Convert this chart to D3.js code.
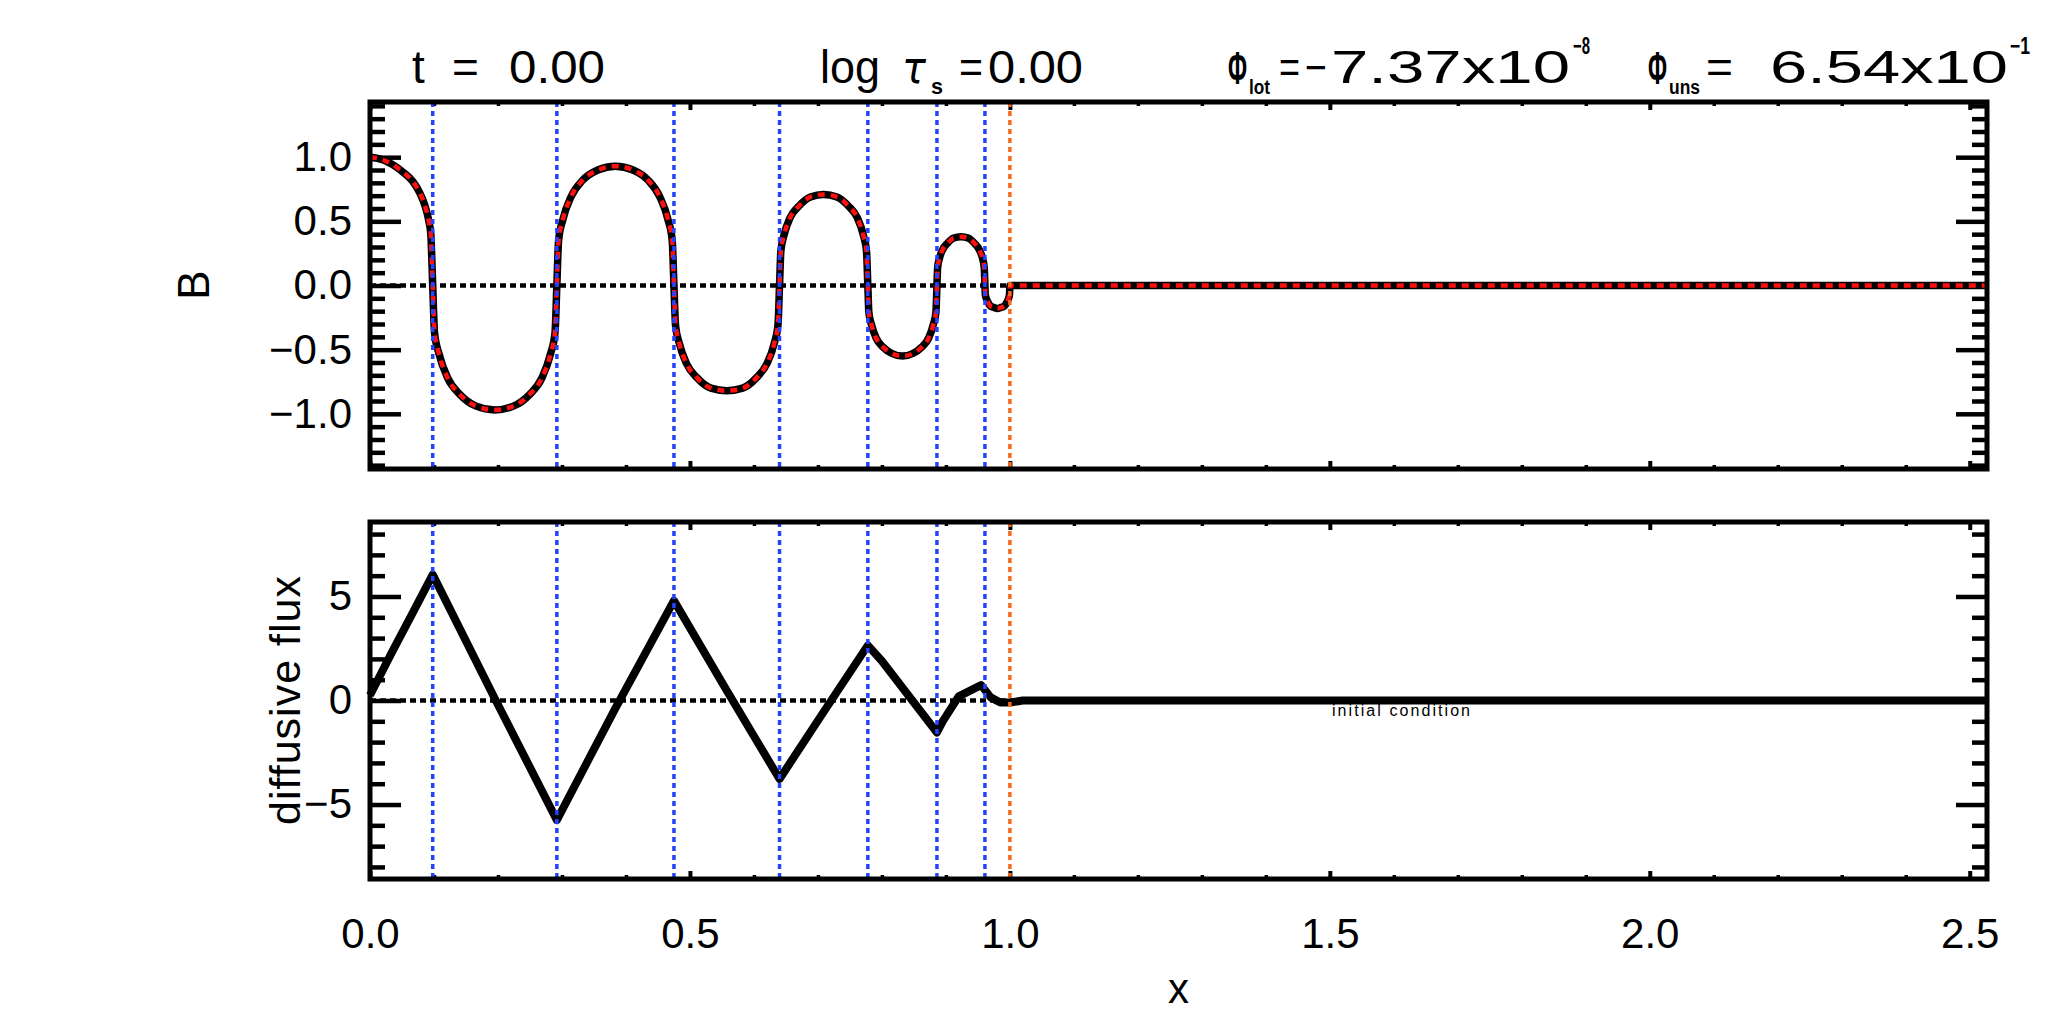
<!DOCTYPE html>
<html><head><meta charset="utf-8">
<script src="https://cdn.jsdelivr.net/npm/d3@7"></script>
<style>
body{margin:0;background:#fff}
text{font-family:"Liberation Sans",Arial,sans-serif;fill:#000}
</style>
</head><body>
<svg id="c" width="2048" height="1024"></svg>
<script>
// ---------------- data ----------------
const xMax = 2.527;
// zero crossings of B (blue dashed) and boundary (orange dashed)
const zeroLines = [0.098, 0.292, 0.475, 0.640, 0.778, 0.886, 0.961];
const boundaryLine = [1.0];

// B(x)
const bX = [
  0, 0.020, 0.036, 0.050, 0.067, 0.078, 0.086, 0.092, 0.095,
  0.098, 0.1009, 0.1077, 0.1213, 0.1407, 0.1659, 0.195, 0.2241, 0.2493, 0.2687, 0.2823, 0.2891,
  0.292, 0.2947, 0.3012, 0.314, 0.3323, 0.3561, 0.3835, 0.411, 0.4347, 0.453, 0.4659, 0.4723,
  0.475, 0.4775, 0.4833, 0.4948, 0.5113, 0.5328, 0.5575, 0.5823, 0.6037, 0.6202, 0.6318, 0.6375,
  0.640, 0.6421, 0.6469, 0.6566, 0.6704, 0.6883, 0.709, 0.7297, 0.7476, 0.7614, 0.7711, 0.7759,
  0.778, 0.7796, 0.7834, 0.791, 0.8018, 0.8158, 0.832, 0.8482, 0.8622, 0.873, 0.8806, 0.8844,
  0.886, 0.8871, 0.8898, 0.895, 0.9025, 0.9123, 0.9235, 0.9347, 0.9445, 0.952, 0.9573, 0.9599,
  0.961, 0.9616, 0.963, 0.9657, 0.9696, 0.9747, 0.9805, 0.9863, 0.9914, 0.9953, 0.998, 0.9994,
  1.0, 2.527
];
const bVal = [
  1.00, 0.98, 0.94, 0.89, 0.81, 0.72, 0.62, 0.50, 0.40,
  0, -0.37, -0.53, -0.72, -0.85, -0.94, -0.97, -0.94, -0.85, -0.72, -0.53, -0.37,
  0, 0.35, 0.51, 0.69, 0.82, 0.90, 0.93, 0.90, 0.82, 0.69, 0.51, 0.35,
  0, -0.31, -0.45, -0.61, -0.72, -0.80, -0.82, -0.80, -0.72, -0.61, -0.45, -0.31,
  0, 0.27, 0.39, 0.53, 0.62, 0.69, 0.71, 0.69, 0.62, 0.53, 0.39, 0.27,
  0, -0.21, -0.30, -0.41, -0.48, -0.53, -0.55, -0.53, -0.48, -0.41, -0.30, -0.21,
  0, 0.14, 0.21, 0.28, 0.33, 0.37, 0.38, 0.37, 0.33, 0.28, 0.21, 0.14,
  0, -0.07, -0.10, -0.13, -0.16, -0.17, -0.18, -0.17, -0.16, -0.13, -0.10, -0.07,
  0, 0
];

// diffusive flux
const fX   = [0, 0.034, 0.070, 0.098, 0.195, 0.292, 0.383, 0.475, 0.557, 0.640, 0.710, 0.778, 0.800, 0.886, 0.895, 0.920, 0.955, 0.970, 0.985, 1.000, 1.020, 2.527];
const fVal = [0.25, 2.3, 4.4, 6.05, 0.1, -5.75, -0.4, 4.8, 0.5, -3.77, -0.5, 2.65, 1.9, -1.54, -1.0, 0.2, 0.74, 0.15, -0.1, -0.1, 0, 0];

// tick labels
const xTicks  = [0, 0.5, 1.0, 1.5, 2.0, 2.5];
const bTicks  = [-1.0, -0.5, 0.0, 0.5, 1.0];
const fTicks  = [-5, 0, 5];

// ---------------- layout ----------------
const svg = d3.select("#c");
const L = 370, R = 1987;
const top1 = 102, bot1 = 469, top2 = 522, bot2 = 879;
const FONT = '"Liberation Sans",Arial,sans-serif';

const x  = d3.scaleLinear().domain([0, xMax]).range([L, R]);
const yB = d3.scaleLinear().domain([-1.43, 1.43]).range([bot1, top1]);
const yF = d3.scaleLinear().domain([-8.58, 8.58]).range([bot2, top2]);

const xMinor = d3.range(0, 26).filter(i => i % 5 !== 0).map(i => i / 10);
const bMinor = d3.range(-14, 15).filter(i => i % 5 !== 0).map(i => i / 10);
const fMinor = d3.range(-8, 9).filter(i => i % 5 !== 0);

function style(g, sw) {
  g.attr("font-size", null).attr("font-family", null);
  g.select(".domain").remove();
  g.selectAll(".tick line").attr("stroke", "#000").attr("stroke-width", sw);
  g.selectAll(".tick text").attr("font-size", 42).attr("font-family", FONT).attr("fill", "#000");
  return g;
}

function panel(y, top, bot, ticks, minor, fmt) {
  style(svg.append("g").attr("transform", `translate(${L},0)`)
    .call(d3.axisLeft(y).tickValues(ticks).tickSize(-31).tickPadding(18).tickFormat(fmt)), 4.5);
  style(svg.append("g").attr("transform", `translate(${L},0)`)
    .call(d3.axisLeft(y).tickValues(minor).tickSize(-15).tickFormat("")), 4.5);
  style(svg.append("g").attr("transform", `translate(${R},0)`)
    .call(d3.axisRight(y).tickValues(ticks).tickSize(-31).tickFormat("")), 4.5);
  style(svg.append("g").attr("transform", `translate(${R},0)`)
    .call(d3.axisRight(y).tickValues(minor).tickSize(-15).tickFormat("")), 4.5);
  style(svg.append("g").attr("transform", `translate(0,${top})`)
    .call(d3.axisTop(x).tickValues(xTicks).tickSize(-8).tickFormat("")), 4);
  style(svg.append("g").attr("transform", `translate(0,${top})`)
    .call(d3.axisTop(x).tickValues(xMinor).tickSize(-4).tickFormat("")), 3.5);
  style(svg.append("g").attr("transform", `translate(0,${bot})`)
    .call(d3.axisBottom(x).tickValues(xMinor).tickSize(-4).tickFormat("")), 3.5);
}

panel(yB, top1, bot1, bTicks, bMinor, d3.format(".1f"));
panel(yF, top2, bot2, fTicks, fMinor, d3.format("d"));

style(svg.append("g").attr("transform", `translate(0,${bot1})`)
  .call(d3.axisBottom(x).tickValues(xTicks).tickSize(-8).tickFormat("")), 4);
style(svg.append("g").attr("transform", `translate(0,${bot2})`)
  .call(d3.axisBottom(x).tickValues(xTicks).tickSize(-8).tickPadding(39).tickFormat(d3.format(".1f"))), 4);

// zero dotted lines
[yB, yF].forEach(y => {
  svg.append("line").attr("x1", x(0)).attr("x2", x(xMax)).attr("y1", y(0)).attr("y2", y(0))
    .attr("stroke", "#000").attr("stroke-width", 4.5).attr("stroke-dasharray", "6,4");
});

// B curve: black line with red dotted overlay (initial condition)
const bData = bX.map((d, i) => [d, bVal[i]]);
const lineB = d3.line().x(d => x(d[0])).y(d => yB(d[1])).curve(d3.curveMonotoneX);
svg.append("path").attr("d", lineB(bData)).attr("fill", "none")
  .attr("stroke", "#000").attr("stroke-width", 7.5).attr("stroke-linejoin", "round");
svg.append("path").attr("d", lineB(bData)).attr("fill", "none")
  .attr("stroke", "#ff1010").attr("stroke-width", 4.5).attr("stroke-dasharray", "7,6");

// flux curve
const fData = fX.map((d, i) => [d, fVal[i]]);
const lineF = d3.line().x(d => x(d[0])).y(d => yF(d[1])).curve(d3.curveLinear);
svg.append("path").attr("d", lineF(fData)).attr("fill", "none")
  .attr("stroke", "#000").attr("stroke-width", 8).attr("stroke-linejoin", "round");

// vertical dashed lines
[[top1, bot1], [top2, bot2]].forEach(([t, b]) => {
  svg.append("g").selectAll("line").data(zeroLines).join("line")
    .attr("x1", d => x(d)).attr("x2", d => x(d)).attr("y1", t).attr("y2", b)
    .attr("stroke", "#2443ff").attr("stroke-width", 3.5).attr("stroke-dasharray", "5,4");
  svg.append("g").selectAll("line").data(boundaryLine).join("line")
    .attr("x1", d => x(d)).attr("x2", d => x(d)).attr("y1", t).attr("y2", b)
    .attr("stroke", "#f26b21").attr("stroke-width", 3.5).attr("stroke-dasharray", "5,4");
});

// frames
[[top1, bot1], [top2, bot2]].forEach(([t, b]) => {
  svg.append("rect").attr("x", L).attr("y", t).attr("width", R - L).attr("height", b - t)
    .attr("fill", "none").attr("stroke", "#000").attr("stroke-width", 5);
});

// ---------------- texts ----------------
function group(parts) {
  const t = svg.append("text").attr("font-size", 46);
  parts.forEach(p => {
    const s = t.append("tspan").attr("x", p.x).attr("y", p.y || 83).text(p.s);
    if (p.size) s.attr("font-size", p.size);
    if (p.len) s.attr("textLength", p.len).attr("lengthAdjust", "spacingAndGlyphs");
    if (p.bold) s.attr("font-weight", "bold");
    if (p.italic) s.attr("font-style", "italic");
    if (p.font) s.attr("font-family", p.font);
  });
  return t;
}
group([{s: "t", x: 412}, {s: "=", x: 452}, {s: "0.00", x: 509, len: 96}]);
group([{s: "log", x: 820, len: 60},
       {s: "τ", x: 902, size: 44, italic: true, font: '"DejaVu Sans",sans-serif', len: 24}]);
svg.append("text").attr("x", 931).attr("y", 94).attr("font-size", 22).attr("font-weight", "bold")
  .attr("textLength", 12).attr("lengthAdjust", "spacingAndGlyphs").text("s");
group([{s: "=", x: 959, len: 24},
       {s: "0.00", x: 988, len: 95}]);
group([{s: "Φ", x: 1228, y: 84, bold: true, len: 19}]);
svg.append("text").attr("x", 1249).attr("y", 94).attr("font-size", 20).attr("font-weight", "bold")
  .attr("textLength", 21).attr("lengthAdjust", "spacingAndGlyphs").text("lot");
group([{s: "=", x: 1279, len: 21},
       {s: "−", x: 1305, len: 22},
       {s: "7.37x10", x: 1331, len: 239},
       {s: "−8", x: 1573, y: 54, size: 24, bold: true, len: 17}]);
group([{s: "Φ", x: 1648, y: 84, bold: true, len: 19}]);
svg.append("text").attr("x", 1669).attr("y", 94).attr("font-size", 20).attr("font-weight", "bold")
  .attr("textLength", 31).attr("lengthAdjust", "spacingAndGlyphs").text("uns");
group([{s: "=", x: 1706, len: 27},
       {s: "6.54x10", x: 1770, len: 238},
       {s: "−1", x: 2010, y: 54, size: 24, bold: true, len: 20}]);

// axis titles
svg.append("text").attr("transform", "translate(209,285) rotate(-90)")
  .attr("text-anchor", "middle").attr("font-size", 44).text("B");
svg.append("text").attr("transform", "translate(300,700) rotate(-90)")
  .attr("text-anchor", "middle").attr("font-size", 43).attr("letter-spacing", 1).text("diffusive flux");
svg.append("text").attr("x", (L + R) / 2).attr("y", 1003).attr("text-anchor", "middle")
  .attr("font-size", 42).text("x");

// annotation
svg.append("text").attr("x", 1332).attr("y", 716).attr("font-size", 16)
  .attr("textLength", 138).attr("lengthAdjust", "spacing").text("initial condition");
</script>
</body></html>
